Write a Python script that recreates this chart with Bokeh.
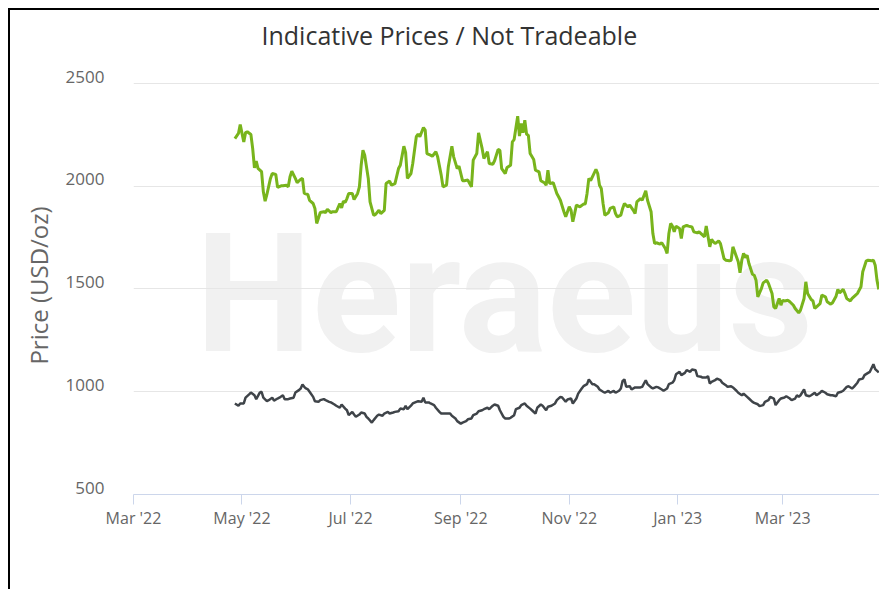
import pandas as pd
from bokeh.plotting import figure
from bokeh.models import Range1d, FixedTicker, Legend, LegendItem, Label, LinearAxis, Title
from bokeh.embed import file_html
from bokeh.resources import INLINE

title_text = "Indicative Prices / Not Tradeable"
y_axis_label = "Price (USD/oz)"
watermark_text = "Heraeus"

platinum_dates = [
    "2022-04-27", "2022-04-29", "2022-04-30", "2022-05-02", "2022-05-03", "2022-05-05", "2022-05-06", "2022-05-08",
    "2022-05-09", "2022-05-11", "2022-05-12", "2022-05-13", "2022-05-15", "2022-05-16", "2022-05-18", "2022-05-19",
    "2022-05-21", "2022-05-22", "2022-05-24", "2022-05-25", "2022-05-27", "2022-05-28", "2022-05-30", "2022-05-31",
    "2022-06-02", "2022-06-03", "2022-06-04", "2022-06-05", "2022-06-06", "2022-06-07", "2022-06-08", "2022-06-10",
    "2022-06-11", "2022-06-13", "2022-06-14", "2022-06-16", "2022-06-17", "2022-06-19", "2022-06-20", "2022-06-22",
    "2022-06-23", "2022-06-25", "2022-06-26", "2022-06-28", "2022-06-29", "2022-06-30", "2022-07-02", "2022-07-03",
    "2022-07-04", "2022-07-06", "2022-07-07", "2022-07-09", "2022-07-10", "2022-07-11", "2022-07-13", "2022-07-14",
    "2022-07-16", "2022-07-17", "2022-07-19", "2022-07-20", "2022-07-22", "2022-07-23", "2022-07-25", "2022-07-26",
    "2022-07-28", "2022-07-29", "2022-07-31", "2022-08-01", "2022-08-02", "2022-08-04", "2022-08-05", "2022-08-07",
    "2022-08-08", "2022-08-10", "2022-08-11", "2022-08-12", "2022-08-14", "2022-08-15", "2022-08-17", "2022-08-18",
    "2022-08-20", "2022-08-21", "2022-08-23", "2022-08-24", "2022-08-26", "2022-08-27", "2022-08-29", "2022-08-30",
    "2022-09-01", "2022-09-02", "2022-09-04", "2022-09-05", "2022-09-07", "2022-09-08", "2022-09-10", "2022-09-11",
    "2022-09-13", "2022-09-14", "2022-09-16", "2022-09-17", "2022-09-19", "2022-09-20", "2022-09-22", "2022-09-23",
    "2022-09-25", "2022-09-26", "2022-09-28", "2022-09-29", "2022-10-01", "2022-10-02", "2022-10-04", "2022-10-05",
    "2022-10-07", "2022-10-08", "2022-10-10", "2022-10-11", "2022-10-13", "2022-10-14", "2022-10-16", "2022-10-17",
    "2022-10-19", "2022-10-20", "2022-10-22", "2022-10-24", "2022-10-25", "2022-10-27", "2022-10-28", "2022-10-30",
    "2022-10-31", "2022-11-02", "2022-11-03", "2022-11-05", "2022-11-06", "2022-11-08", "2022-11-09", "2022-11-11",
    "2022-11-12", "2022-11-14", "2022-11-15", "2022-11-17", "2022-11-18", "2022-11-20", "2022-11-21", "2022-11-23",
    "2022-11-24", "2022-11-26", "2022-11-27", "2022-11-29", "2022-11-30", "2022-12-01", "2022-12-02", "2022-12-03",
    "2022-12-05", "2022-12-06", "2022-12-08", "2022-12-09", "2022-12-11", "2022-12-12", "2022-12-14", "2022-12-15",
    "2022-12-17", "2022-12-18", "2022-12-20", "2022-12-21", "2022-12-23", "2022-12-24", "2022-12-26", "2022-12-27",
    "2022-12-29", "2022-12-30", "2022-12-31", "2023-01-02", "2023-01-03", "2023-01-05", "2023-01-06", "2023-01-08",
    "2023-01-09", "2023-01-11", "2023-01-12", "2023-01-14", "2023-01-15", "2023-01-17", "2023-01-18", "2023-01-19",
    "2023-01-20", "2023-01-22", "2023-01-23", "2023-01-25", "2023-01-26", "2023-01-28", "2023-01-29", "2023-01-31",
    "2023-02-01", "2023-02-03", "2023-02-04", "2023-02-06", "2023-02-07", "2023-02-09", "2023-02-10", "2023-02-12",
    "2023-02-13", "2023-02-15", "2023-02-16", "2023-02-18", "2023-02-19", "2023-02-21", "2023-02-22", "2023-02-24",
    "2023-02-25", "2023-02-27", "2023-02-28", "2023-03-02", "2023-03-03", "2023-03-05", "2023-03-06", "2023-03-08",
    "2023-03-09", "2023-03-10", "2023-03-11", "2023-03-13", "2023-03-14", "2023-03-16", "2023-03-17", "2023-03-19",
    "2023-03-20", "2023-03-22", "2023-03-23", "2023-03-25", "2023-03-26", "2023-03-28", "2023-03-29", "2023-03-31",
    "2023-04-01", "2023-04-03", "2023-04-04", "2023-04-06", "2023-04-07", "2023-04-09", "2023-04-10", "2023-04-12",
    "2023-04-13", "2023-04-15", "2023-04-16", "2023-04-18", "2023-04-19", "2023-04-21", "2023-04-22", "2023-04-24",
]
platinum_prices = [
    943, 932, 943, 943, 971, 987, 996, 983,
    964, 996, 1000, 971, 954, 959, 971, 957,
    967, 971, 983, 964, 964, 967, 971, 996,
    1008, 1016, 1035, 1024, 1016, 1012, 1000, 975,
    954, 951, 959, 964, 959, 951, 948, 938,
    932, 922, 938, 918, 910, 886, 902, 889,
    878, 889, 899, 894, 878, 870, 850, 862,
    883, 889, 883, 894, 902, 894, 899, 902,
    905, 918, 915, 932, 915, 932, 943, 951,
    954, 951, 971, 948, 948, 943, 935, 922,
    902, 894, 894, 894, 894, 883, 870, 857,
    845, 850, 857, 866, 870, 886, 894, 905,
    910, 915, 922, 915, 932, 938, 932, 910,
    878, 870, 870, 873, 886, 915, 922, 935,
    943, 932, 918, 910, 894, 922, 938, 932,
    910, 927, 932, 943, 959, 975, 972, 951,
    962, 967, 943, 967, 991, 1016, 1027, 1037,
    1060, 1037, 1037, 1024, 1011, 1000, 995, 1005,
    995, 1005, 995, 1005, 1016, 1053, 1060, 1024,
    1027, 1011, 1021, 1021, 1021, 1024, 1056, 1037,
    1021, 1016, 1024, 1021, 1011, 1005, 1016, 1037,
    1044, 1056, 1085, 1097, 1081, 1092, 1105, 1097,
    1108, 1105, 1076, 1073, 1069, 1069, 1076, 1040,
    1048, 1056, 1064, 1056, 1044, 1032, 1024, 1027,
    1021, 1005, 995, 983, 991, 975, 967, 951,
    946, 939, 930, 935, 951, 959, 975, 967,
    935, 959, 967, 972, 978, 967, 959, 967,
    983, 975, 983, 1011, 983, 978, 983, 995,
    983, 995, 1005, 995, 988, 983, 983, 978,
    995, 1000, 1005, 1024, 1027, 1016, 1024, 1044,
    1060, 1064, 1081, 1092, 1097, 1134, 1110, 1094,
]

palladium_dates = [
    "2022-04-27", "2022-04-29", "2022-04-30", "2022-05-02", "2022-05-03", "2022-05-04", "2022-05-06", "2022-05-07",
    "2022-05-08", "2022-05-09", "2022-05-10", "2022-05-12", "2022-05-13", "2022-05-14", "2022-05-15", "2022-05-17",
    "2022-05-18", "2022-05-20", "2022-05-21", "2022-05-23", "2022-05-24", "2022-05-26", "2022-05-27", "2022-05-28",
    "2022-05-29", "2022-05-31", "2022-06-01", "2022-06-03", "2022-06-04", "2022-06-05", "2022-06-07", "2022-06-08",
    "2022-06-10", "2022-06-11", "2022-06-12", "2022-06-14", "2022-06-16", "2022-06-17", "2022-06-18", "2022-06-20",
    "2022-06-21", "2022-06-23", "2022-06-25", "2022-06-26", "2022-06-27", "2022-06-28", "2022-06-29", "2022-06-30",
    "2022-07-02", "2022-07-03", "2022-07-05", "2022-07-06", "2022-07-07", "2022-07-08", "2022-07-09", "2022-07-11",
    "2022-07-12", "2022-07-14", "2022-07-15", "2022-07-17", "2022-07-18", "2022-07-20", "2022-07-21", "2022-07-23",
    "2022-07-24", "2022-07-26", "2022-07-28", "2022-07-29", "2022-07-31", "2022-08-01", "2022-08-02", "2022-08-04",
    "2022-08-05", "2022-08-07", "2022-08-08", "2022-08-09", "2022-08-11", "2022-08-12", "2022-08-13", "2022-08-15",
    "2022-08-16", "2022-08-18", "2022-08-19", "2022-08-21", "2022-08-22", "2022-08-24", "2022-08-25", "2022-08-27",
    "2022-08-28", "2022-08-30", "2022-08-31", "2022-09-02", "2022-09-03", "2022-09-05", "2022-09-06", "2022-09-07",
    "2022-09-08", "2022-09-10", "2022-09-11", "2022-09-13", "2022-09-14", "2022-09-16", "2022-09-17", "2022-09-19",
    "2022-09-20", "2022-09-22", "2022-09-23", "2022-09-24", "2022-09-26", "2022-09-27", "2022-09-29", "2022-09-30",
    "2022-10-01", "2022-10-03", "2022-10-04", "2022-10-05", "2022-10-06", "2022-10-07", "2022-10-08", "2022-10-09",
    "2022-10-10", "2022-10-12", "2022-10-13", "2022-10-15", "2022-10-16", "2022-10-18", "2022-10-19", "2022-10-20",
    "2022-10-21", "2022-10-23", "2022-10-25", "2022-10-26", "2022-10-27", "2022-10-29", "2022-10-30", "2022-11-01",
    "2022-11-02", "2022-11-03", "2022-11-04", "2022-11-05", "2022-11-07", "2022-11-09", "2022-11-10", "2022-11-11",
    "2022-11-12", "2022-11-13", "2022-11-14", "2022-11-16", "2022-11-17", "2022-11-18", "2022-11-19", "2022-11-20",
    "2022-11-21", "2022-11-23", "2022-11-24", "2022-11-26", "2022-11-27", "2022-11-28", "2022-11-30", "2022-12-01",
    "2022-12-02", "2022-12-04", "2022-12-05", "2022-12-07", "2022-12-08", "2022-12-09", "2022-12-11", "2022-12-12",
    "2022-12-14", "2022-12-15", "2022-12-17", "2022-12-18", "2022-12-19", "2022-12-20", "2022-12-22", "2022-12-23",
    "2022-12-25", "2022-12-26", "2022-12-27", "2022-12-28", "2022-12-29", "2022-12-30", "2022-12-31", "2023-01-02",
    "2023-01-03", "2023-01-04", "2023-01-06", "2023-01-07", "2023-01-09", "2023-01-10", "2023-01-12", "2023-01-13",
    "2023-01-15", "2023-01-16", "2023-01-17", "2023-01-19", "2023-01-20", "2023-01-21", "2023-01-22", "2023-01-24",
    "2023-01-25", "2023-01-27", "2023-01-28", "2023-01-30", "2023-01-31", "2023-02-01", "2023-02-02", "2023-02-04",
    "2023-02-05", "2023-02-06", "2023-02-07", "2023-02-08", "2023-02-09", "2023-02-10", "2023-02-12", "2023-02-13",
    "2023-02-14", "2023-02-15", "2023-02-17", "2023-02-18", "2023-02-20", "2023-02-21", "2023-02-23", "2023-02-24",
    "2023-02-25", "2023-02-27", "2023-02-28", "2023-03-01", "2023-03-02", "2023-03-04", "2023-03-05", "2023-03-07",
    "2023-03-08", "2023-03-10", "2023-03-11", "2023-03-13", "2023-03-14", "2023-03-15", "2023-03-17", "2023-03-18",
    "2023-03-19", "2023-03-20", "2023-03-22", "2023-03-23", "2023-03-25", "2023-03-26", "2023-03-28", "2023-03-29",
    "2023-03-31", "2023-04-01", "2023-04-02", "2023-04-04", "2023-04-05", "2023-04-06", "2023-04-08", "2023-04-09",
    "2023-04-11", "2023-04-12", "2023-04-14", "2023-04-15", "2023-04-17", "2023-04-18", "2023-04-20", "2023-04-21",
    "2023-04-22", "2023-04-23", "2023-04-24",
]
palladium_prices = [
    2232, 2257, 2300, 2216, 2261, 2265, 2252, 2184,
    2090, 2122, 2087, 2071, 1973, 1927, 1960, 2038,
    2062, 2057, 1995, 2002, 2002, 2005, 1997, 2046,
    2073, 2038, 2018, 2034, 2038, 1965, 1960, 1931,
    1916, 1892, 1819, 1872, 1876, 1872, 1888, 1872,
    1876, 1876, 1916, 1895, 1927, 1921, 1940, 1965,
    1965, 1935, 1965, 1997, 2102, 2175, 2151, 2038,
    1924, 1859, 1862, 1883, 1867, 1883, 2013, 2025,
    2005, 2013, 2086, 2102, 2195, 2163, 2038, 2062,
    2111, 2241, 2253, 2241, 2286, 2273, 2159, 2151,
    2146, 2168, 2143, 2054, 1997, 2005, 2095, 2195,
    2143, 2086, 2098, 2027, 2027, 2030, 2013, 1997,
    2127, 2159, 2260, 2184, 2135, 2168, 2111, 2107,
    2124, 2179, 2175, 2086, 2062, 2091, 2102, 2216,
    2227, 2341, 2244, 2305, 2260, 2321, 2253, 2248,
    2159, 2130, 2078, 2070, 2027, 2017, 2005, 2078,
    2013, 2017, 1965, 1949, 1932, 1876, 1851, 1900,
    1883, 1827, 1867, 1908, 1900, 1913, 1913, 1965,
    2038, 2027, 2046, 2082, 2062, 2005, 1989, 1916,
    1859, 1871, 1892, 1900, 1867, 1851, 1859, 1892,
    1916, 1900, 1908, 1883, 1867, 1924, 1940, 1932,
    1978, 1932, 1876, 1770, 1721, 1725, 1718, 1725,
    1697, 1673, 1770, 1819, 1806, 1778, 1806, 1794,
    1746, 1802, 1810, 1806, 1802, 1778, 1773, 1778,
    1762, 1754, 1806, 1705, 1741, 1730, 1721, 1734,
    1721, 1648, 1640, 1637, 1640, 1705, 1681, 1632,
    1579, 1640, 1673, 1653, 1664, 1624, 1572, 1567,
    1543, 1462, 1502, 1530, 1543, 1527, 1478, 1413,
    1405, 1454, 1421, 1445, 1442, 1445, 1438, 1421,
    1405, 1384, 1397, 1454, 1535, 1478, 1449, 1442,
    1405, 1413, 1429, 1470, 1462, 1438, 1426, 1433,
    1465, 1498, 1481, 1498, 1478, 1454, 1442, 1454,
    1470, 1478, 1511, 1584, 1637, 1640, 1637, 1640,
    1616, 1543, 1498,
]

series_names = ["Platinum", "Palladium"]
series_colors = ["#3f4449", "#78b41c"]

x_tick_dates = ["2022-03-01", "2022-05-01", "2022-07-01", "2022-09-01", "2022-11-01", "2023-01-01", "2023-03-01"]
x_tick_labels = ["Mar '22", "May '22", "Jul '22", "Sep '22", "Nov '22", "Jan '23", "Mar '23"]
y_ticks = [500, 1000, 1500, 2000, 2500]
x_start, x_end = "2022-03-01", "2023-04-24 10:00"
y_start, y_end = 500, 2534
watermark_date, watermark_value = "2022-09-25 12:00", 1473

FONT = "Open Sans"
LABEL_SHIFT = 34  # lifts the y tick labels just above their grid lines


def ms(d):
    return pd.Timestamp(d).value / 1e6


pt_x = [ms(d) for d in platinum_dates]
pd_x = [ms(d) for d in palladium_dates]

p = figure(
    frame_width=746, frame_height=418,
    x_axis_type="datetime",
    x_range=Range1d(ms(x_start), ms(x_end)),
    y_range=Range1d(y_start, y_end),
    output_backend="svg", toolbar_location=None,
    min_border_left=123, min_border_right=0, min_border_top=63, min_border_bottom=96,
    styles={"margin-left": "8px", "margin-top": "8px",
            "border-left": "2px solid #000000", "border-top": "2px solid #000000"},
)
p.outline_line_color = None
p.background_fill_color = "#ffffff"
p.border_fill_color = "#ffffff"

# spacer between frame and title (pushes the title upwards)
p.add_layout(Title(text=" ", text_font_size="1px", standoff=17), "above")

p.title.text = title_text
p.title.align = "left"
p.title.offset = 128
p.title.text_font = FONT
p.title.text_font_size = "25px"
p.title.text_font_style = "normal"
p.title.text_color = "#333333"
p.title.standoff = 10

wm = Label(x=ms(watermark_date), y=watermark_value, text=watermark_text,
           text_font="Roboto", text_font_size="165px", text_font_style="bold",
           text_color="#f1f1f1", text_align="center", text_baseline="middle",
           level="image")
p.add_layout(wm)

r_pt = p.line(pt_x, platinum_prices, line_color=series_colors[0], line_width=2.5)
r_pd = p.line(pd_x, palladium_prices, line_color=series_colors[1], line_width=3)

# x axis
tick_ms = [ms(d) for d in x_tick_dates]
p.xaxis.ticker = FixedTicker(ticks=tick_ms)
p.xaxis.major_label_overrides = {t: lab for t, lab in zip(tick_ms, x_tick_labels)}
p.xaxis.axis_line_color = "#ccd6eb"
p.xaxis.major_tick_line_color = "#ccd6eb"
p.xaxis.major_tick_out = 10
p.xaxis.major_tick_in = 0
p.xaxis.minor_tick_line_color = None
p.xaxis.major_label_text_font = FONT
p.xaxis.major_label_text_font_size = "16px"
p.xaxis.major_label_text_color = "#666666"
p.xaxis.major_label_standoff = 2
p.xgrid.grid_line_color = None

# y axis: grid from the main range, labels from a slightly shifted range
p.yaxis.visible = False
p.ygrid.ticker = FixedTicker(ticks=y_ticks)
p.ygrid.grid_line_color = "#e6e6e6"
p.extra_y_ranges = {"labels": Range1d(y_start - LABEL_SHIFT, y_end - LABEL_SHIFT)}
yax = LinearAxis(y_range_name="labels", ticker=FixedTicker(ticks=y_ticks))
yax.axis_line_color = None
yax.major_tick_line_color = None
yax.minor_tick_line_color = None
yax.major_label_text_font = FONT
yax.major_label_text_font_size = "17px"
yax.major_label_text_color = "#666666"
yax.major_label_standoff = 23
yax.axis_label = y_axis_label
yax.axis_label_text_font = FONT
yax.axis_label_text_font_size = "24px"
yax.axis_label_text_font_style = "normal"
yax.axis_label_text_color = "#666666"
yax.axis_label_standoff = 8
p.add_layout(yax, "left")

legend = Legend(
    items=[LegendItem(label=series_names[0], renderers=[r_pt]),
           LegendItem(label=series_names[1], renderers=[r_pd])],
    orientation="horizontal", location="center",
    border_line_color=None, background_fill_alpha=0,
    label_text_font=FONT, label_text_font_size="17px", label_text_font_style="bold",
    label_text_color="#333333", glyph_width=20, glyph_height=16,
    label_standoff=10, spacing=28, padding=0, margin=18,
)
p.add_layout(legend, "below")

open("out.html", "w").write(file_html(p, INLINE))
